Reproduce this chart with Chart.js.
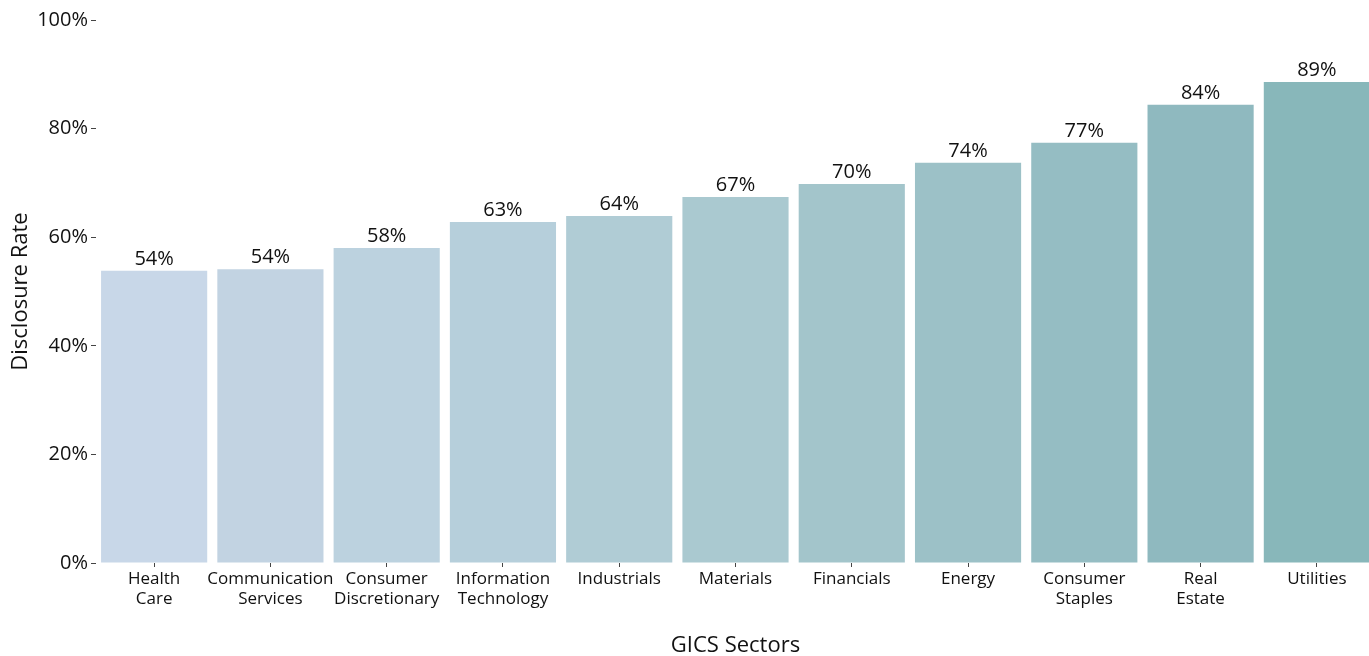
<!DOCTYPE html>
<html>
<head>
<meta charset="utf-8">
<script src="https://cdn.jsdelivr.net/npm/chart.js@4"></script>
<style>
html,body{margin:0;padding:0;background:#fff;overflow:hidden;}
#wrap{width:1375px;height:656px;position:relative;}
</style>
</head>
<body>
<div id="wrap"><canvas id="c"></canvas></div>
<script>
const categories = [["Health","Care"],["Communication","Services"],["Consumer","Discretionary"],["Information","Technology"],["Industrials"],["Materials"],["Financials"],["Energy"],["Consumer","Staples"],["Real","Estate"],["Utilities"]];
const disclosureRate = [53.8, 54.1, 58.0, 62.8, 63.9, 67.4, 69.8, 73.7, 77.4, 84.4, 88.6];
const barColors = ["#c8d7e8","#c2d3e2","#bcd2df","#b6cfdb","#b0ccd5","#aac9d0","#a3c5cb","#9cc1c7","#95bdc3","#8fb9bf","#88b7ba"];
const yTicks = [0,20,40,60,80,100];

const FONT = "'Open Sans', sans-serif";
const TXT = "#111111";

const labelPlugin = {
  id: 'barLabels',
  afterDatasetsDraw(chart) {
    const ctx = chart.ctx;
    const meta = chart.getDatasetMeta(0);
    ctx.save();
    ctx.font = "20px " + FONT;
    ctx.fillStyle = TXT;
    ctx.textAlign = "center";
    ctx.textBaseline = "alphabetic";
    meta.data.forEach((bar, i) => {
      ctx.fillText(Math.round(disclosureRate[i]) + "%", bar.x, bar.y - 6);
    });
    ctx.restore();
  }
};

new Chart(document.getElementById('c'), {
  type: 'bar',
  data: {
    labels: categories,
    datasets: [{
      data: disclosureRate,
      backgroundColor: barColors,
      borderWidth: 0,
      categoryPercentage: 1,
      barPercentage: 0.913
    }]
  },
  options: {
    responsive: true,
    maintainAspectRatio: false,
    animation: false,
    layout: { padding: { top: 20, right: 0, left: 0, bottom: 0 } },
    plugins: { legend: { display: false }, tooltip: { enabled: false } },
    scales: {
      x: {
        grid: { offset: false, drawOnChartArea: false, drawTicks: true, tickLength: 4, color: '#444', lineWidth: 1 },
        border: { display: false },
        ticks: { color: TXT, font: { family: FONT, size: 17, lineHeight: 1.18 }, padding: 2, maxRotation: 0, autoSkip: false },
        title: { display: true, text: 'GICS Sectors', color: TXT, font: { family: FONT, size: 22, lineHeight: 1 }, padding: { top: 0, bottom: -1 } },
        afterFit(scale) { scale.height = 93; }
      },
      y: {
        min: 0, max: 100,
        afterBuildTicks(scale) { scale.ticks = yTicks.map(v => ({ value: v })); },
        grid: { drawOnChartArea: false, drawTicks: true, tickLength: 5, color: '#444', lineWidth: 1 },
        border: { display: false },
        ticks: { color: TXT, font: { family: FONT, size: 20 }, padding: 3, callback: v => v + '%' },
        title: { display: true, text: 'Disclosure Rate', color: TXT, font: { family: FONT, size: 22 }, padding: { top: 8, bottom: 0 } },
        afterFit(scale) { scale.width = 96; }
      }
    }
  },
  plugins: [labelPlugin]
});
</script>
</body>
</html>
